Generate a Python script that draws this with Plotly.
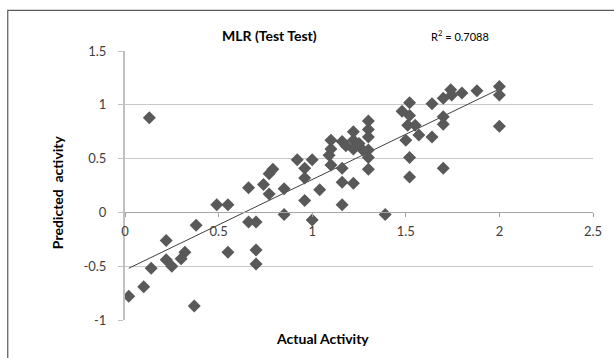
import numpy as np
import plotly.graph_objects as go

actual = [0.02, 0.10, 0.14, 0.13, 0.22, 0.22, 0.25, 0.30, 0.32, 0.37,
          0.38, 0.49, 0.55, 0.55, 0.66, 0.66, 0.70, 0.70, 0.70, 0.74,
          0.77, 0.77, 0.79, 0.85, 0.85, 0.92, 0.96, 0.96, 0.96, 1.00,
          1.00, 1.04, 1.09, 1.10, 1.10, 1.10, 1.16, 1.16, 1.16, 1.16,
          1.22, 1.22, 1.22, 1.22, 1.27, 1.30, 1.30, 1.30, 1.30, 1.30,
          1.30, 1.39, 1.48, 1.52, 1.52, 1.51, 1.55, 1.50, 1.57, 1.52,
          1.52, 1.64, 1.64, 1.70, 1.70, 1.70, 1.70, 1.74, 1.745, 1.80,
          1.88, 2.00, 2.00, 2.00, 1.18, 1.25]
predicted = [-0.78, -0.69, -0.52, 0.88, -0.26, -0.44, -0.50, -0.43, -0.37, -0.87,
             -0.12, 0.07, 0.07, -0.37, 0.23, -0.09, -0.09, -0.35, -0.48, 0.26,
             0.17, 0.36, 0.40, 0.22, -0.02, 0.49, 0.41, 0.32, 0.11, 0.49,
             -0.07, 0.21, 0.53, 0.44, 0.59, 0.67, 0.66, 0.41, 0.28, 0.07,
             0.27, 0.75, 0.67, 0.59, 0.58, 0.85, 0.77, 0.70, 0.58, 0.51,
             0.40, -0.02, 0.94, 1.02, 0.90, 0.81, 0.81, 0.67, 0.72, 0.51,
             0.33, 1.01, 0.70, 1.06, 0.89, 0.82, 0.41, 1.14, 1.09, 1.11,
             1.13, 1.17, 1.09, 0.80, 0.62, 0.64]

title_text = "MLR (Test Test)"
r2_text = "R<sup>2</sup> = 0.7088"
x_title = "Actual Activity"
y_title = "Predicted  activity"
x_ticks = [0, 0.5, 1, 1.5, 2, 2.5]
y_ticks = [-1, -0.5, 0, 0.5, 1, 1.5]

xa = np.array(actual)
ya = np.array(predicted)
slope, intercept = np.polyfit(xa, ya, 1)
line_x = np.array([xa.min(), xa.max()])
line_y = slope * line_x + intercept

FONT = "Lato, 'Open Sans', sans-serif"


def px_x(p):
    return (p - 125) / 475.0


def px_y(p):
    return (320 - p) / 269.3


fig = go.Figure()
fig.add_trace(go.Scatter(x=line_x, y=line_y, mode="lines",
                         line=dict(color="#404040", width=1), showlegend=False, hoverinfo="skip"))
fig.add_trace(go.Scatter(x=actual, y=predicted, mode="markers",
                         marker=dict(symbol="diamond", size=10, color="#595959"),
                         showlegend=False))

fig.update_layout(
    width=614, height=358,
    margin=dict(l=125, r=14, t=51, b=38),
    paper_bgcolor="white", plot_bgcolor="white",
    font=dict(family=FONT, size=12, color="#404040"),
    xaxis=dict(range=[0, 2.5], tickvals=x_ticks, ticktext=[str(v) for v in x_ticks],
               anchor="free", position=0.4, showgrid=False, zeroline=False,
               showline=True, linecolor="#a6a6a6", linewidth=1,
               ticks="outside", ticklen=4, tickcolor="#a6a6a6",
               ticklabelstandoff=3,
               tickfont=dict(size=13, color="#404040")),
    yaxis=dict(range=[-1, 1.5], tickvals=y_ticks, ticktext=[str(v) for v in y_ticks],
               showgrid=True, gridcolor="#c8c8c8", gridwidth=1, zeroline=False,
               showline=True, linecolor="#c0c0c0", linewidth=2,
               ticks="outside", ticklen=5, tickcolor="#c0c0c0",
               ticklabelstandoff=9,
               tickfont=dict(size=13, color="#404040")),
    shapes=[dict(type="rect", xref="paper", yref="paper",
                 x0=px_x(6), x1=1.05, y0=-0.3, y1=px_y(10),
                 line=dict(color="#5a5a5a", width=1.2), fillcolor="rgba(0,0,0,0)", layer="below")],
    annotations=[
        dict(text="<b>" + title_text + "</b>", xref="paper", yref="paper",
             x=px_x(272), y=px_y(35), xanchor="center", yanchor="middle",
             showarrow=False, font=dict(size=14, color="#000000")),
        dict(text=r2_text, xref="paper", yref="paper",
             x=px_x(465), y=px_y(35), xanchor="center", yanchor="middle",
             showarrow=False, font=dict(size=11, color="#000000")),
        dict(text="<b>" + x_title + "</b>", xref="paper", yref="paper",
             x=px_x(325), y=px_y(339), xanchor="center", yanchor="middle",
             showarrow=False, font=dict(size=14, color="#000000")),
        dict(text="<b>" + y_title + "</b>", xref="paper", yref="paper",
             x=px_x(56), y=px_y(192), xanchor="center", yanchor="middle",
             showarrow=False, font=dict(size=14, color="#000000"), textangle=-90),
    ],
)

fig.write_html("out.html")
